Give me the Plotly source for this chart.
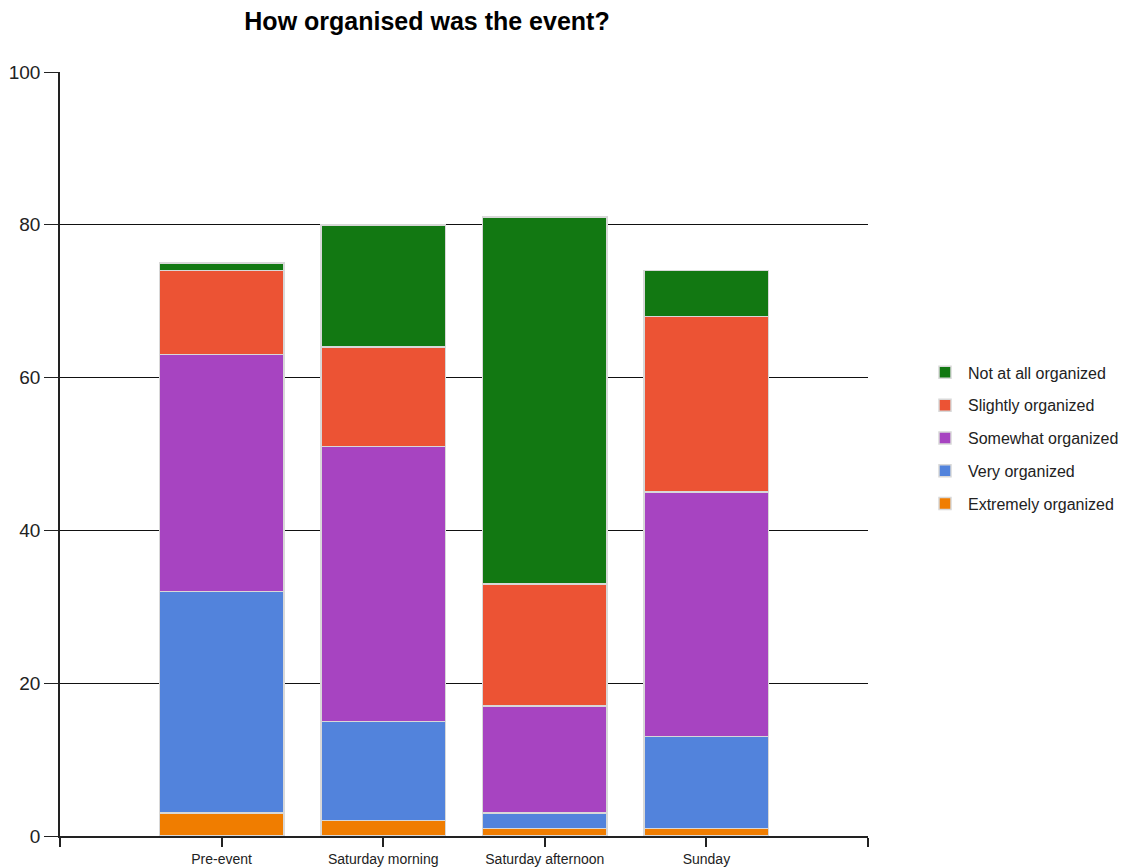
import plotly.graph_objects as go

categories = ["Pre-event", "Saturday morning", "Saturday afternoon", "Sunday"]
series_names = ["Extremely organized", "Very organized", "Somewhat organized",
                "Slightly organized", "Not at all organized"]
extremely = [3, 2, 1, 1]
very = [29, 13, 2, 12]
somewhat = [31, 36, 14, 32]
slightly = [11, 13, 16, 23]
not_at_all = [1, 16, 48, 6]
series_values = [extremely, very, somewhat, slightly, not_at_all]
colors = ["#f07d00", "#5283dc", "#a744c1", "#ec5334", "#127812"]
y_ticks = [0, 20, 40, 60, 80, 100]

xpos = list(range(len(categories)))

# page body has an 8px margin; compensate so the plot lands where the reference has it
OFF = 8
W, H = 1133, 867

fig = go.Figure()
for i, (name, vals, col) in enumerate(zip(series_names, series_values, colors)):
    fig.add_trace(go.Bar(
        x=xpos, y=vals, name=name, legendgroup=name,
        legendrank=1000 - i,
        marker=dict(color=col, line=dict(color="#d8d8d8", width=1.5)),
        width=0.77,
    ))

fig.update_layout(
    width=W, height=H,
    barmode="stack",
    plot_bgcolor="white", paper_bgcolor="white",
    margin=dict(l=60 - OFF, r=W - (868 - OFF), t=72 - OFF, b=H - (836 - OFF), autoexpand=False),
    title=dict(text="<b>How organised was the event?</b>", x=(427 - OFF) / W, xref="container",
               xanchor="center", y=1 - (21 - OFF) / H, yanchor="middle", yref="container",
               font=dict(family="Liberation Sans, Arial, sans-serif", size=25, color="black"),
               automargin=False),
    font=dict(family="Liberation Sans, Arial, sans-serif", color="#222222"),
    legend=dict(x=(922 - 60) / 808, xanchor="left", y=0.521, yanchor="middle",
                traceorder="grouped", font=dict(size=16, color="#222222"),
                bgcolor="rgba(0,0,0,0)", tracegroupgap=9, itemwidth=36),
    showlegend=True,
)
fig.update_xaxes(
    range=[-1, 4],
    tickvals=[-1] + xpos + [4],
    ticktext=[""] + categories + [""],
    ticks="outside", ticklen=9, tickwidth=1.5, tickcolor="#222222",
    showline=True, linecolor="#222222", linewidth=1.5,
    showgrid=False, zeroline=False, automargin=False,
    tickfont=dict(size=14, color="#222222"),
)
fig.update_yaxes(
    range=[0, 100],
    tickvals=y_ticks,
    ticks="outside", ticklen=14, tickwidth=1.2, tickcolor="#222222",
    showline=True, linecolor="#222222", linewidth=1.5,
    showgrid=True, gridcolor="#111111", gridwidth=1.2,
    zeroline=False, automargin=False,
    tickfont=dict(size=19, color="#222222"),
)

fig.write_html("out.html")
